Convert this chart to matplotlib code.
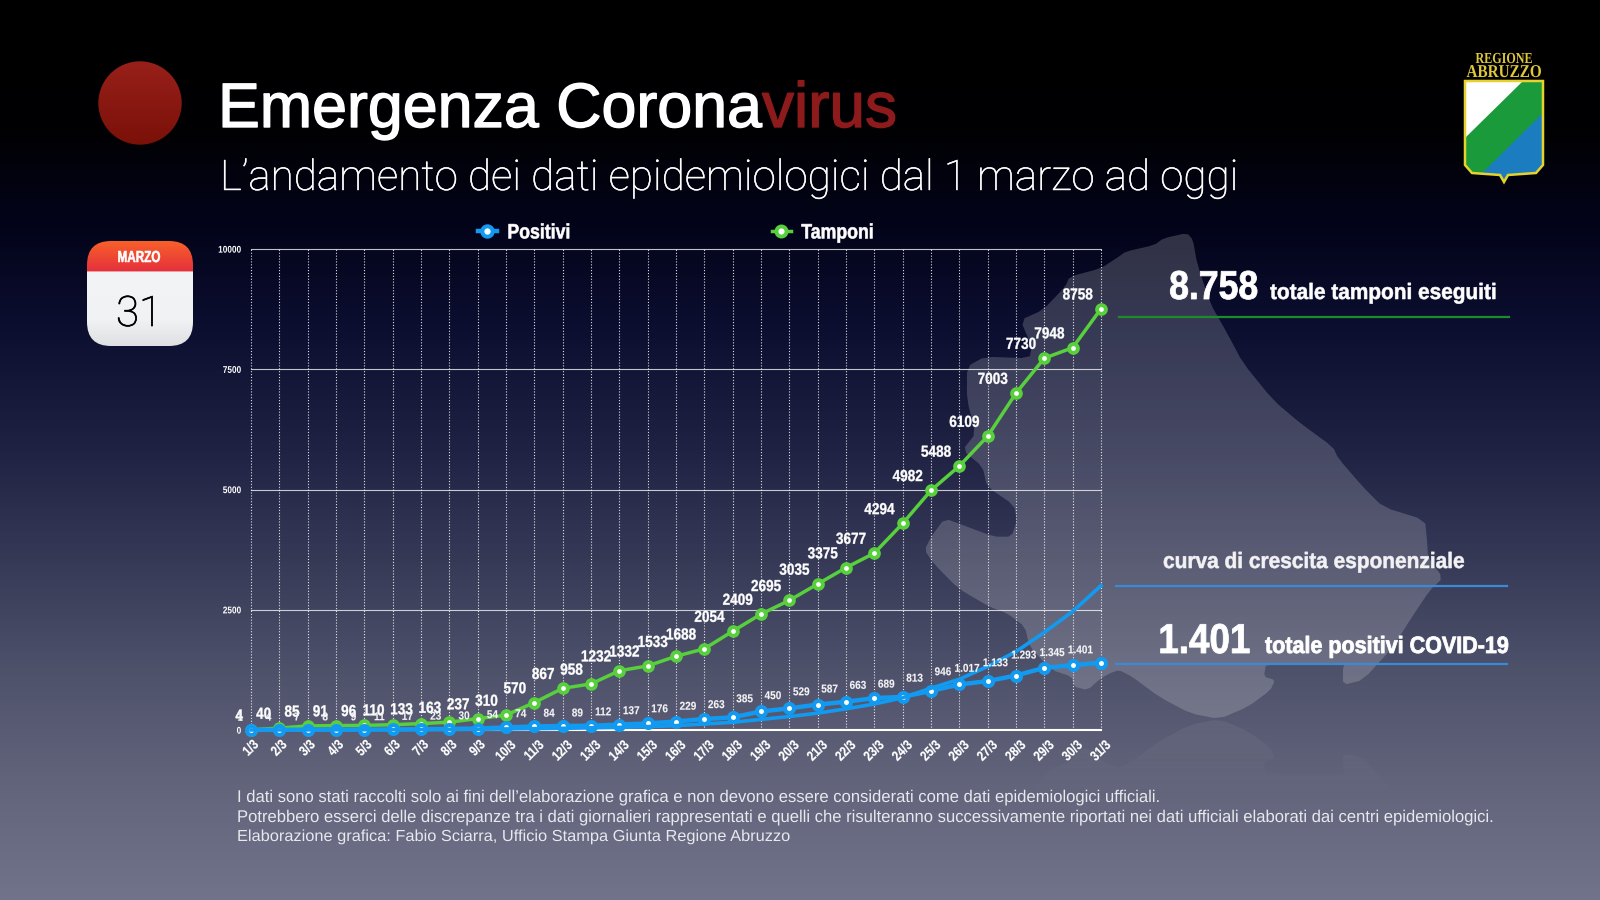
import numpy as np
import matplotlib
matplotlib.use("Agg")
import matplotlib.pyplot as plt
from matplotlib import font_manager as fm, patheffects as pe
from matplotlib.patches import Polygon, Circle, FancyBboxPatch
from matplotlib.colors import LinearSegmentedColormap
from matplotlib.transforms import Affine2D

plt.rcParams["text.hinting"] = "no_hinting"

# ---------- data ----------
dates = [f"{d}/3" for d in range(1, 32)]
tamponi = [4, 40, 85, 91, 96, 110, 133, 163, 237, 310, 570, 867, 958, 1232, 1332, 1533,
           1688, 2054, 2409, 2695, 3035, 3375, 3677, 4294, 4982, 5488, 6109, 7003, 7730, 7948, 8758]
positivi = [1, 4, 7, 8, 9, 11, 17, 23, 30, 54, 74, 84, 89, 112, 137, 176,
            229, 263, 385, 450, 529, 587, 663, 689, 813, 946, 1017, 1133, 1293, 1345, 1401]
curva_esponenziale = [1, 2, 3, 4, 6, 8, 10, 13, 17, 22, 28, 35, 45, 55, 70, 90,
                      125, 160, 220, 280, 350, 440, 540, 670, 870, 1055, 1320, 1630, 2030, 2465, 3000]
y_ticks = [0, 2500, 5000, 7500, 10000]
foot_lines = [
    "I dati sono stati raccolti solo ai fini dell\u2019elaborazione grafica e non devono essere considerati come dati epidemiologici ufficiali.",
    "Potrebbero esserci delle discrepanze tra i dati giornalieri rappresentati e quelli che risulteranno successivamente riportati nei dati ufficiali elaborati dai centri epidemiologici.",
    "Elaborazione grafica: Fabio Sciarra, Ufficio Stampa Giunta Regione Abruzzo",
]

HELV = "Liberation Sans"
PX = 0.72


class Squeeze(pe.AbstractPathEffect):
    """Narrow a text horizontally about an anchor (0 left, 0.5 centre, 1 right), with optional extra weight."""
    def __init__(self, sx, anchor=0.0, stroke=0.0):
        super().__init__()
        self.sx, self.anchor, self.stroke = sx, anchor, stroke

    def draw_path(self, renderer, gc, tpath, affine, rgbFace=None):
        e = tpath.get_extents()
        a = e.x0 + (e.x1 - e.x0) * self.anchor
        aff = Affine2D().translate(-a, 0).scale(self.sx, 1).translate(a, 0) + affine
        gc0 = renderer.new_gc()
        gc0.copy_properties(gc)
        if self.stroke:
            gc0.set_linewidth(self.stroke)
            gc0.set_foreground(rgbFace)
        renderer.draw_path(gc0, tpath, aff, rgbFace)
        gc0.restore()


fig = plt.figure(figsize=(16, 9), dpi=100)
bg = fig.add_axes([0, 0, 1, 1], zorder=0)
bg.set_xlim(0, 1600)
bg.set_ylim(900, 0)
bg.axis("off")

grad = LinearSegmentedColormap.from_list("bg", [
    (0.00, "#000000"), (0.14, "#010103"), (0.25, "#03041a"), (0.36, "#0b0e2f"),
    (0.50, "#1f2243"), (0.62, "#363956"), (0.75, "#4f526b"), (0.88, "#62657b"), (1.00, "#70738a")])
bg.imshow(np.linspace(0, 1, 450)[:, None], cmap=grad, extent=(0, 1600, 900, 0), aspect="auto", zorder=0)
bg.set_xlim(0, 1600)
bg.set_ylim(900, 0)

# map silhouette, decorative backdrop
coast = [(1187, 233), (1193, 240), (1197, 263), (1210, 303), (1227, 333), (1243, 363), (1273, 400), (1300, 423),
         (1333, 447), (1338, 458), (1363, 487), (1383, 507), (1425, 520), (1427, 540), (1428, 557), (1443, 578),
         (1430, 590), (1410, 620), (1393, 647), (1363, 680), (1343, 685), (1343, 667), (1346, 663)]
z6 = [(820, 430), (815, 470), (840, 480), (830, 510), (780, 560), (715, 597), (650, 580),
      (580, 530), (520, 470), (490, 450), (470, 460), (450, 475), (420, 510), (390, 500), (385, 470),
      (340, 450), (290, 380), (280, 320), (240, 280), (200, 260), (130, 205), (75, 130), (55, 90), (70, 50)]
z5b = [(100, 895), (150, 920), (210, 950), (250, 950), (262, 900), (255, 855), (195, 800), (185, 740),
       (140, 690), (170, 640), (150, 540), (150, 440), (190, 410), (290, 415), (295, 380), (270, 300),
       (320, 270), (370, 200), (380, 170), (450, 145), (490, 110), (505, 95), (570, 75), (590, 55)]
outline = list(coast)
outline += [(900 + x / 2.24, 520 + y / 3) for x, y in z6]
outline += [(900 + x / 2.24, 220 + y / 3) for x, y in z5b]
outline = np.array(outline)
nxt = np.roll(outline, -1, axis=0)
outline = np.column_stack([0.82 * outline + 0.18 * nxt, 0.18 * outline + 0.82 * nxt]).reshape(-1, 2)
bg.add_patch(Polygon(outline, closed=True, fc=(1, 1, 1, 0.18), ec="none", zorder=1))
mirror = outline * [1, -1] + [0, 2 * 719]
mp = Polygon(mirror, closed=True, fc="none", ec="none", transform=bg.transData)
bg.add_patch(mp)
ref = np.ones((100, 2, 4))
ref[:, :, 3] = np.linspace(0.06, 0, 100)[:, None]
im = bg.imshow(ref, extent=(900, 1500, 800, 719), aspect="auto", zorder=1)
im.set_clip_path(mp)
bg.set_xlim(0, 1600)
bg.set_ylim(900, 0)


def label(x, y, s, width=None, size=12, family=HELV, weight="normal", color="white", ha="left",
          va="baseline", mode="fit", stroke=0.0):
    t = bg.text(x, y, s, fontsize=size, family=family, weight=weight, color=color, ha=ha, va=va, zorder=6)
    if width:
        w = t.get_window_extent(fig.canvas.get_renderer()).width
        if mode == "fit":
            t.set_fontsize(size * width / w)
        else:
            t.set_path_effects([Squeeze(width / w, {"left": 0, "center": 0.5, "right": 1}[ha], stroke)])
    if stroke and mode == "fit":
        t.set_path_effects([pe.withStroke(linewidth=stroke, foreground=color)])
    return t


# title
label(218, 127, "Emergenza Corona", width=544, size=45, stroke=1.0)
label(762, 127, "virus", width=135, size=45, color="#8e1b1b", stroke=1.0)
label(220, 190, "L\u2019andamento dei dati epidemiologici dal 1 marzo ad oggi", width=1018, size=28,
      family="Roboto", weight="light", color="white", stroke=0.3)

# red disc
red = LinearSegmentedColormap.from_list("red", ["#98201a", "#7a1109"])
d = Circle((140, 103), 41.7, fc="none", ec="none")
bg.add_patch(d)
imr = bg.imshow(np.linspace(0, 1, 60)[:, None], cmap=red, extent=(98, 182, 145, 61), aspect="auto", zorder=3)
imr.set_clip_path(d)

# calendar
box = FancyBboxPatch((87 + 22, 241 + 22), 106 - 44, 105 - 44, boxstyle="round,pad=22,rounding_size=24", fc="none", ec="none")
bg.add_patch(box)
cal = LinearSegmentedColormap.from_list("cal", [(0, "#f8602a"), (0.29, "#e4303c"), (0.2901, "#f3f4f6"), (0.75, "#f1f2f4"), (1, "#dfe0e3")])
imc = bg.imshow(np.linspace(0, 1, 200)[:, None], cmap=cal, extent=(87, 193, 346, 241), aspect="auto", zorder=3)
imc.set_clip_path(box)
label(139, 262, "MARZO", width=43, size=11.5, weight="bold", ha="center", mode="squeeze", stroke=0.4)
label(139, 326, "31", width=46, size=36, family="Roboto", weight="light", color="#000000", ha="center", stroke=0.5)

# coat of arms
sh_xy = [(1465, 81), (1543, 81), (1543, 165), (1536, 173), (1508, 175), (1504, 182), (1500, 175),
         (1472, 173), (1465, 165)]
shield = Polygon(sh_xy, closed=True, fc="#1a9a3a", ec="none", zorder=3)
bg.add_patch(shield)
white = Polygon([(1465, 81), (1523, 81), (1465, 138)], closed=True, fc="white", ec="none", zorder=3)
blue = Polygon([(1545, 111), (1545, 185), (1470, 185)], closed=True, fc="#1b7dc0", ec="none", zorder=3)
bg.add_patch(white)
bg.add_patch(blue)
blue.set_clip_path(shield)
white.set_clip_path(shield)
bg.add_patch(Polygon(sh_xy, closed=True, fc="none", ec="#e6d22c", lw=1.8, zorder=3))
label(1504, 63, "REGIONE", width=57, size=11, family="Liberation Serif", weight="bold", color="#e0c83a", ha="center", mode="squeeze")
label(1504, 77, "ABRUZZO", width=75, size=13, family="Liberation Serif", weight="bold", color="#e0c83a", ha="center", mode="squeeze")

# right panel
label(1169, 299, "8.758", width=89, size=29, weight="bold", mode="squeeze", stroke=0.6)
label(1270, 299, "totale tamponi eseguiti", width=227, size=16, weight="bold", mode="squeeze", stroke=0.4)
bg.plot([1119, 1509], [317, 317], color="#1e8a2e", lw=1.6, zorder=5)
label(1163, 568, "curva di crescita esponenziale", width=302, size=16, weight="bold", color="#f2f2f5", mode="squeeze", stroke=0.4)
bg.plot([1116, 1507], [586, 586], color="#3a8ad6", lw=1.6, zorder=5)
label(1158, 653, "1.401", width=92, size=30, weight="bold", mode="squeeze", stroke=0.6)
label(1265, 653, "totale positivi COVID-19", width=244, size=17, weight="bold", mode="squeeze", stroke=0.6)
bg.plot([1116, 1507], [664, 664], color="#3a8ad6", lw=1.6, zorder=5)

# footnotes
w_foot = [(1160 - 237), (1492 - 237), (791 - 237)]
for yy, s, w in zip([801, 821, 841], foot_lines, w_foot):
    label(237, yy, s, width=w, size=12, color="#e8e8ee")

# ---------- chart ----------
L, R, T, B = 251, 1101, 249, 730
ax = fig.add_axes([L / 1600, 1 - B / 900, (R - L) / 1600, (B - T) / 900], zorder=2)
ax.patch.set_alpha(0)
x = np.arange(len(dates))
ax.set_xlim(0, len(dates) - 1)
ax.set_ylim(0, y_ticks[-1])
for s in ax.spines.values():
    s.set_visible(False)
for v in y_ticks:
    ax.axhline(v, color="white", lw=1.5 if v == 0 else 0.8, alpha=1 if v == 0 else 0.75, zorder=1, clip_on=False)
for i in x:
    ax.axvline(i, color="white", lw=0.8, ls=(0, (1, 1.6)), alpha=0.85, zorder=1, clip_on=False)

GREEN = "#58cf3c"
BLUE = "#129af0"
lg, = ax.plot(x, tamponi, color=GREEN, lw=2.5, marker="o", ms=6.3, mfc="white", mec=GREEN, mew=2.8, zorder=3, clip_on=False, label="Tamponi")
lb, = ax.plot(x, positivi, color=BLUE, lw=3.2, marker="o", ms=6.5, mfc="white", mec=BLUE, mew=2.9, zorder=4, clip_on=False, label="Positivi")
ax.plot(x, curva_esponenziale, color=BLUE, lw=2.6, zorder=5, clip_on=False)

for i, v in zip(x, tamponi):
    t = ax.annotate(str(v), (i, v), xytext=(-8 * PX, 6 * PX), textcoords="offset points", ha="right", va="bottom",
                    color="white", fontsize=11.5, family=HELV, weight="bold", zorder=7)
    t.set_path_effects([Squeeze(0.85, 1, 0.25)])
for i, v in zip(x, positivi):
    s = f"{v:,}".replace(",", ".")
    t = ax.annotate(s, (i, v), xytext=(-8 * PX, 7 * PX), textcoords="offset points", ha="right", va="bottom",
                    color="#f4f4f6", fontsize=8.2, family=HELV, weight="bold", zorder=7)
    t.set_path_effects([Squeeze(0.88, 1, 0.1)])

ax.set_xticks(x)
ax.set_xticklabels(dates, rotation=45, ha="center", color="white", fontsize=10, family=HELV, weight="bold")
for t in ax.get_xticklabels():
    t.set_path_effects([Squeeze(0.82, 0.5, 0.15)])
ax.set_yticks(y_ticks)
ax.set_yticklabels([str(v) for v in y_ticks], color="white", fontsize=7, family=HELV, weight="bold")
for t in ax.get_yticklabels():
    t.set_path_effects([Squeeze(0.85, 1)])
ax.tick_params(axis="both", length=0)
ax.tick_params(axis="x", pad=5)
ax.tick_params(axis="y", pad=7)

leg = ax.legend(handles=[lb, lg], loc="center left", bbox_to_anchor=(478 / 1600, 1 - 233 / 900), bbox_transform=fig.transFigure,
                ncol=2, frameon=False, handlelength=0.9, handletextpad=0.5, columnspacing=9.15, borderpad=0, borderaxespad=0,
                markerscale=1.15, prop=fm.FontProperties(family=HELV, weight="bold", size=15))
for t in leg.get_texts():
    t.set_color("white")
    t.set_path_effects([Squeeze(0.85, 0, 0.4)])

fig.savefig("out.png", dpi=100, facecolor="black")
